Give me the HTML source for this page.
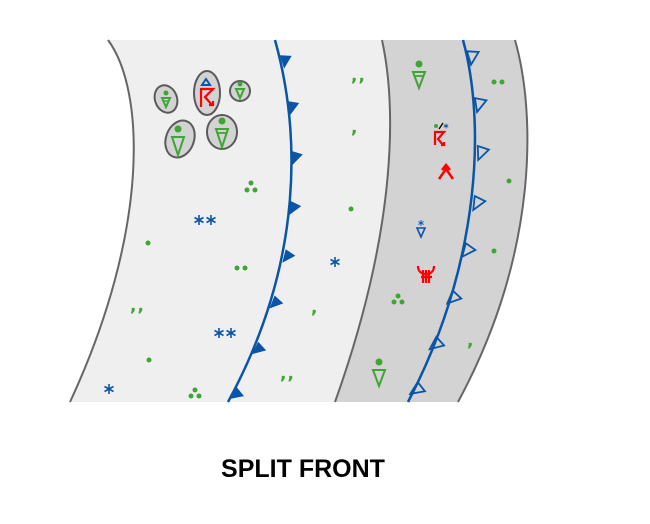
<!DOCTYPE html>
<html><head><meta charset="utf-8"><style>
html,body{margin:0;padding:0;background:#fff;}
svg{display:block;}
.g{fill:#3fa535;}
.gs{fill:none;stroke:#3fa535;stroke-width:2;}
.c{fill:#3fa535;font-family:"DejaVu Sans",sans-serif;font-size:17px;font-weight:bold;letter-spacing:1px;}
.r{fill:none;stroke:#ff0000;stroke-width:2.2;}
</style></head><body>
<svg width="650" height="524" viewBox="0 0 650 524" xmlns="http://www.w3.org/2000/svg">
<defs>
<g id="ast" stroke="#0a55a8" stroke-width="1.6">
<line x1="0" y1="-5" x2="0" y2="5"/><line x1="-4.5" y1="-2.5" x2="4.5" y2="2.5"/><line x1="-4.5" y1="2.5" x2="4.5" y2="-2.5"/>
</g>
</defs>
<path d="M108,40 L382,40 C395,100 400,220 335,402 L70,402 C150,230 145,90 108,40 Z" fill="#efefef"/>
<path d="M108,40 C145,90 150,230 70,402" fill="none" stroke="#666" stroke-width="2"/>
<path d="M382,40 L515,40 C535,110 540,250 458,402 L335,402 C400,220 395,100 382,40 Z" fill="#d3d3d3"/>
<path d="M382,40 C395,100 400,220 335,402" fill="none" stroke="#666" stroke-width="2"/>
<path d="M515,40 C535,110 540,250 458,402" fill="none" stroke="#666" stroke-width="2"/>

<path d="M275,40 C300,130 305,260 228,402" fill="none" stroke="#0a55a8" stroke-width="2.5"/>
<g fill="#0a55a8">
<polygon points="0,-7 11,-3 0,7" transform="translate(282,62) rotate(-17)"/>
<polygon points="0,-7 11,-3 0,7" transform="translate(289,108) rotate(-11)"/>
<polygon points="0,-7 11,-3 0,7" transform="translate(292,158) rotate(-3)"/>
<polygon points="0,-7 11,-3 0,7" transform="translate(290,208) rotate(6)"/>
<polygon points="0,-7 11,-3 0,7" transform="translate(284,256) rotate(14)"/>
<polygon points="0,-7 11,-3 0,7" transform="translate(272,302) rotate(22)"/>
<polygon points="0,-7 11,-3 0,7" transform="translate(255,348) rotate(27)"/>
<polygon points="0,-7 11,-3 0,7" transform="translate(233,393) rotate(31)"/>
</g>
<path d="M463,40 C485,120 482,260 408,402" fill="none" stroke="#0a55a8" stroke-width="2.5"/>
<g fill="none" stroke="#0a55a8" stroke-width="1.8">
<polygon points="0,-7 11,-3 0,7" transform="translate(469,58) rotate(-17)"/>
<polygon points="0,-7 11,-3 0,7" transform="translate(476,105) rotate(-9)"/>
<polygon points="0,-7 11,-3 0,7" transform="translate(478,153) rotate(-2)"/>
<polygon points="0,-7 11,-3 0,7" transform="translate(474,203) rotate(6)"/>
<polygon points="0,-7 11,-3 0,7" transform="translate(464,250) rotate(15)"/>
<polygon points="0,-7 11,-3 0,7" transform="translate(450,297) rotate(23)"/>
<polygon points="0,-7 11,-3 0,7" transform="translate(433,343) rotate(28)"/>
<polygon points="0,-7 11,-3 0,7" transform="translate(414,388) rotate(32)"/>
</g>

<g fill="#d3d3d3" stroke="#5a5a5a" stroke-width="2">
<ellipse cx="166" cy="99" rx="11" ry="14" transform="rotate(-20 166 99)"/>
<ellipse cx="207" cy="93" rx="13" ry="22"/>
<ellipse cx="240" cy="91" rx="10" ry="10"/>
<ellipse cx="180" cy="139" rx="14" ry="19" transform="rotate(20 180 139)"/>
<ellipse cx="222" cy="132" rx="15" ry="17"/>
</g>
<circle class="g" cx="166" cy="93" r="2.5"/>
<polygon class="gs" points="162,98 170,98 166,107"/><line x1="163" y1="101" x2="169" y2="101" stroke="#3fa535" stroke-width="1.5"/>
<polygon points="202,85 210,85 206,79" fill="none" stroke="#0a55a8" stroke-width="2"/>
<path class="r" d="M201,107 V89 H213 L205,97 L212,105 M209,105 H213 V101"/>
<circle class="g" cx="240" cy="84" r="2.5"/>
<polygon class="gs" points="236,89 244,89 240,98"/>
<circle class="g" cx="178" cy="129" r="3.5"/>
<polygon class="gs" points="172,137 184,137 178,155"/>
<circle class="g" cx="222" cy="121" r="3.5"/>
<polygon class="gs" points="216,129 228,129 222,147"/><line x1="217" y1="133" x2="227" y2="133" stroke="#3fa535" stroke-width="1.8"/>

<circle class="g" cx="251" cy="183" r="2.5"/><circle class="g" cx="247" cy="190" r="2.5"/><circle class="g" cx="255" cy="190" r="2.5"/>
<circle class="g" cx="148" cy="243" r="2.5"/>
<circle class="g" cx="237" cy="268" r="2.5"/><circle class="g" cx="245" cy="268" r="2.5"/>
<text class="c" x="130" y="311">,,</text>
<circle class="g" cx="149" cy="360" r="2.5"/>
<circle class="g" cx="195" cy="390" r="2.5"/><circle class="g" cx="191" cy="396" r="2.5"/><circle class="g" cx="199" cy="396" r="2.5"/>
<text class="c" x="280" y="379">,,</text>
<text class="c" x="311" y="313">,</text>
<circle class="g" cx="351" cy="209" r="2.5"/>
<text class="c" x="351" y="133">,</text>
<text class="c" x="351" y="81">,,</text>
<use href="#ast" x="199" y="220"/><use href="#ast" x="211" y="220"/>
<use href="#ast" x="219" y="333"/><use href="#ast" x="231" y="333"/>
<use href="#ast" x="109" y="389"/>
<use href="#ast" x="335" y="262"/>

<circle class="g" cx="419" cy="64" r="3.5"/>
<polygon class="gs" points="413,72 425,72 419,88"/><line x1="414" y1="76" x2="424" y2="76" stroke="#3fa535" stroke-width="1.8"/>
<circle class="g" cx="494" cy="82" r="2.5"/><circle class="g" cx="502" cy="82" r="2.5"/>
<circle class="g" cx="436" cy="126" r="2"/>
<line x1="439" y1="129" x2="443" y2="123" stroke="#000" stroke-width="1.3"/>
<g transform="translate(446,126) scale(0.5)"><use href="#ast"/></g>
<path class="r" d="M435,145 V132 H444 L438,139 L443,145 M441,145 H444 V142"/>
<path d="M439,179 L446,169 L453,179 M442,170 L446,165 L450,170" fill="none" stroke="#ff0000" stroke-width="2.5"/>
<circle class="g" cx="509" cy="181" r="2.5"/>
<g transform="translate(421,223) scale(0.6)"><use href="#ast"/></g>
<polygon points="417,228 425,228 421,237" fill="none" stroke="#0a55a8" stroke-width="1.6"/>
<path class="r" d="M418,266 C418,272 422,274 426,274 C430,274 434,272 434,266 M423,270 V283 M426,270 V283 M429,270 V283 M421,277 H432"/>
<circle class="g" cx="494" cy="251" r="2.5"/>
<circle class="g" cx="398" cy="296" r="2.5"/><circle class="g" cx="394" cy="302" r="2.5"/><circle class="g" cx="402" cy="302" r="2.5"/>
<text class="c" x="467" y="346">,</text>
<circle class="g" cx="379" cy="362" r="3.5"/>
<polygon class="gs" points="373,370 385,370 379,386"/>

<text x="303" y="477" text-anchor="middle" font-family="Liberation Sans,sans-serif" font-size="25" font-weight="bold" fill="#000">SPLIT FRONT</text>
</svg>
</body></html>
